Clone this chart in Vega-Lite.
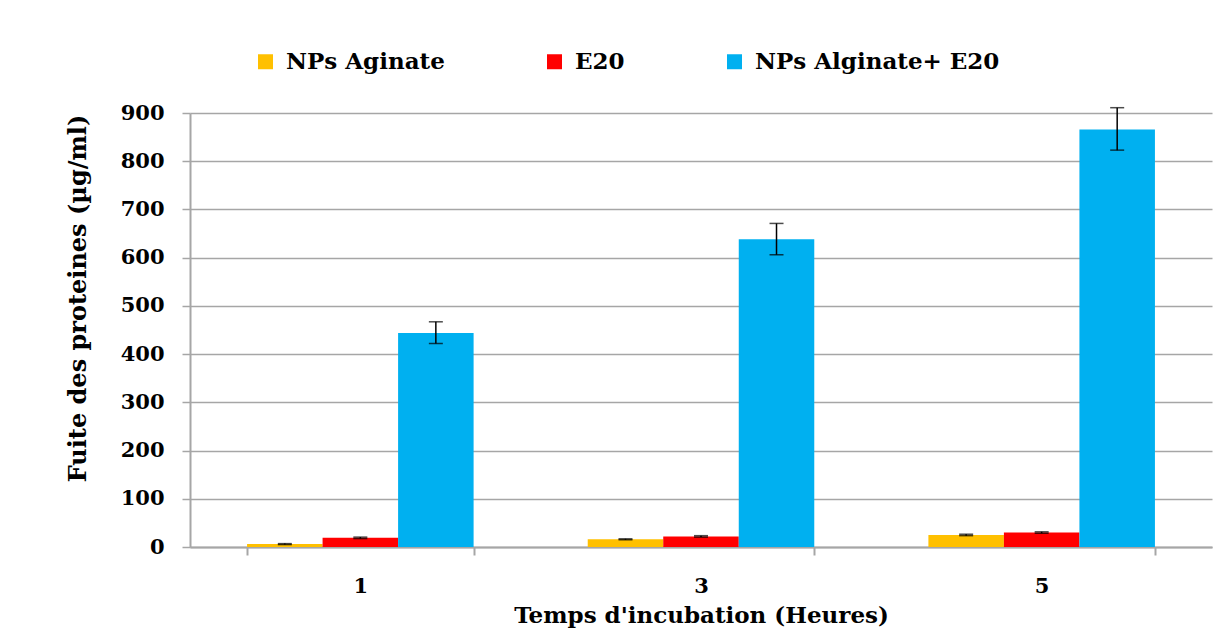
{
  "$schema": "https://vega.github.io/schema/vega-lite/v6.json",
  "width": 1022,
  "height": 434,
  "autosize": {"type": "none"},
  "padding": {"left": 190, "top": 113, "right": 8, "bottom": 97},
  "background": "white",
  "data": {
    "values": [
      {"temps": "1", "serie": "NPs Aginate", "valeur": 6, "lo": 5, "hi": 7},
      {"temps": "1", "serie": "E20", "valeur": 19, "lo": 17.5, "hi": 20.5},
      {"temps": "1", "serie": "NPs Alginate+ E20", "valeur": 444, "lo": 422, "hi": 467},
      {"temps": "3", "serie": "NPs Aginate", "valeur": 16, "lo": 15, "hi": 17},
      {"temps": "3", "serie": "E20", "valeur": 22, "lo": 20.5, "hi": 23.5},
      {"temps": "3", "serie": "NPs Alginate+ E20", "valeur": 638, "lo": 606, "hi": 671},
      {"temps": "5", "serie": "NPs Aginate", "valeur": 25, "lo": 23.5, "hi": 26.5},
      {"temps": "5", "serie": "E20", "valeur": 30, "lo": 28.5, "hi": 31.5},
      {"temps": "5", "serie": "NPs Alginate+ E20", "valeur": 866, "lo": 823, "hi": 911}
    ]
  },
  "encoding": {
    "x": {
      "field": "temps",
      "type": "nominal",
      "sort": ["1", "3", "5"],
      "scale": {"paddingInner": 0.335, "paddingOuter": 0.1675},
      "axis": {
        "title": "Temps d'incubation (Heures)",
        "labelAngle": 0,
        "tickBand": "extent",
        "tickSize": 8,
        "tickColor": "#a6a6a6",
        "tickWidth": 2,
        "domainColor": "#a6a6a6",
        "domainWidth": 2,
        "labelPadding": 20,
        "titlePadding": 8,
        "titleFontSize": 23
      }
    },
    "xOffset": {
      "field": "serie",
      "type": "nominal",
      "sort": ["NPs Aginate", "E20", "NPs Alginate+ E20"],
      "scale": {"paddingInner": 0, "paddingOuter": 0}
    }
  },
  "layer": [
    {
      "mark": {"type": "bar"},
      "encoding": {
        "y": {
          "field": "valeur",
          "type": "quantitative",
          "scale": {"domain": [0, 900], "nice": false},
          "axis": {
            "title": "Fuite des proteines (µg/ml)",
            "values": [0, 100, 200, 300, 400, 500, 600, 700, 800, 900],
            "labelOverlap": false,
            "grid": true,
            "gridColor": "#a6a6a6",
            "gridWidth": 1.5,
            "tickColor": "#a6a6a6",
            "tickSize": 8,
            "tickWidth": 1.5,
            "domainColor": "#a6a6a6",
            "domainWidth": 2,
            "labelPadding": 18,
            "titleFontSize": 24,
            "titleX": -112,
            "titleY": 185,
            "titleAngle": -90,
            "titleAlign": "center",
            "titleBaseline": "middle"
          }
        },
        "color": {
          "field": "serie",
          "type": "nominal",
          "sort": ["NPs Aginate", "E20", "NPs Alginate+ E20"],
          "scale": {
            "domain": ["NPs Aginate", "E20", "NPs Alginate+ E20"],
            "range": ["#ffc000", "#ff0000", "#00b0f0"]
          },
          "legend": {
            "title": null,
            "orient": "none",
            "direction": "horizontal",
            "legendX": 64,
            "legendY": -63,
            "symbolType": "square",
            "symbolSize": 225,
            "symbolStrokeWidth": 0,
            "labelOffset": 9,
            "columnPadding": 98,
            "labelFontSize": 23,
            "labelFont": "DejaVu Serif",
            "labelFontWeight": "bold",
            "labelColor": "#000000",
            "labelLimit": 400
          }
        }
      }
    },
    {
      "mark": {"type": "rule", "color": "#000000", "strokeWidth": 1.5},
      "encoding": {
        "y": {
          "field": "lo",
          "type": "quantitative",
          "axis": {
            "title": "Fuite des proteines (µg/ml)",
            "values": [0, 100, 200, 300, 400, 500, 600, 700, 800, 900],
            "labelOverlap": false,
            "grid": true,
            "gridColor": "#a6a6a6",
            "gridWidth": 1.5,
            "tickColor": "#a6a6a6",
            "tickSize": 8,
            "tickWidth": 1.5,
            "domainColor": "#a6a6a6",
            "domainWidth": 2,
            "labelPadding": 18,
            "titleFontSize": 24,
            "titleX": -112,
            "titleY": 185,
            "titleAngle": -90,
            "titleAlign": "center",
            "titleBaseline": "middle"
          }
        },
        "y2": {"field": "hi"}
      }
    },
    {
      "mark": {"type": "tick", "color": "#000000", "size": 14, "thickness": 1.5, "orient": "horizontal"},
      "encoding": {
        "y": {
          "field": "lo",
          "type": "quantitative",
          "axis": {
            "title": "Fuite des proteines (µg/ml)",
            "values": [0, 100, 200, 300, 400, 500, 600, 700, 800, 900],
            "labelOverlap": false,
            "grid": true,
            "gridColor": "#a6a6a6",
            "gridWidth": 1.5,
            "tickColor": "#a6a6a6",
            "tickSize": 8,
            "tickWidth": 1.5,
            "domainColor": "#a6a6a6",
            "domainWidth": 2,
            "labelPadding": 18,
            "titleFontSize": 24,
            "titleX": -112,
            "titleY": 185,
            "titleAngle": -90,
            "titleAlign": "center",
            "titleBaseline": "middle"
          }
        }
      }
    },
    {
      "mark": {"type": "tick", "color": "#000000", "size": 14, "thickness": 1.5, "orient": "horizontal"},
      "encoding": {
        "y": {
          "field": "hi",
          "type": "quantitative",
          "axis": {
            "title": "Fuite des proteines (µg/ml)",
            "values": [0, 100, 200, 300, 400, 500, 600, 700, 800, 900],
            "labelOverlap": false,
            "grid": true,
            "gridColor": "#a6a6a6",
            "gridWidth": 1.5,
            "tickColor": "#a6a6a6",
            "tickSize": 8,
            "tickWidth": 1.5,
            "domainColor": "#a6a6a6",
            "domainWidth": 2,
            "labelPadding": 18,
            "titleFontSize": 24,
            "titleX": -112,
            "titleY": 185,
            "titleAngle": -90,
            "titleAlign": "center",
            "titleBaseline": "middle"
          }
        }
      }
    }
  ],
  "resolve": {"axis": {"y": "shared"}},
  "config": {
    "view": {"stroke": null},
    "font": "DejaVu Serif",
    "axis": {
      "labelFont": "DejaVu Serif",
      "labelFontWeight": "bold",
      "labelFontSize": 21,
      "labelColor": "#000000",
      "titleFont": "DejaVu Serif",
      "titleFontWeight": "bold",
      "titleFontSize": 22,
      "titleColor": "#000000",
      "labelOverlap": false
    }
  }
}
